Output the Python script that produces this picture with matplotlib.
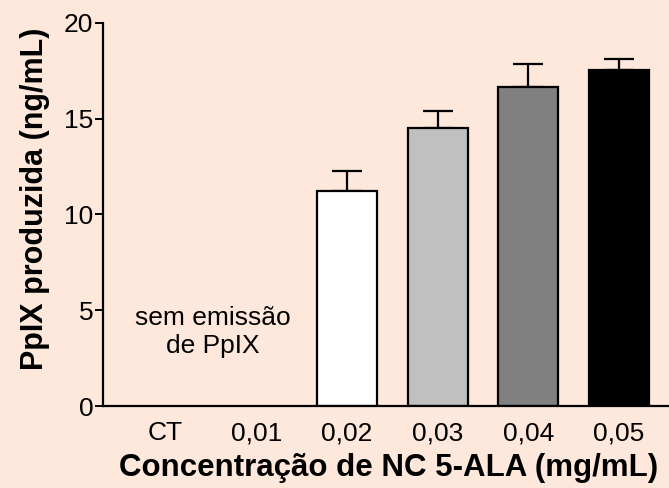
import matplotlib
matplotlib.use("Agg")
import matplotlib.pyplot as plt

plt.rcParams['font.family'] = ['Liberation Sans', 'DejaVu Sans']

categories = ["CT", "0,01", "0,02", "0,03", "0,04", "0,05"]
values = [0, 0, 11.23, 14.5, 16.68, 17.55]
errors = [0, 0, 1.05, 0.9, 1.19, 0.56]
colors = ["white", "white", "white", "#c0c0c0", "#808080", "black"]
yticks = [0, 5, 10, 15, 20]

bg = "#fde8db"
fig = plt.figure(figsize=(6.69, 4.88), dpi=100, facecolor=bg)
ax = fig.add_axes([0.154, 0.168, 0.846, 0.785], facecolor=bg)

x = list(range(len(categories)))
drawn = [i for i, v in enumerate(values) if v > 0]
ax.bar([x[i] for i in drawn], [values[i] for i in drawn], width=0.66,
       color=[colors[i] for i in drawn], edgecolor="black", linewidth=1.6,
       zorder=2)
ax.errorbar([x[i] for i in drawn], [values[i] for i in drawn],
            yerr=[[0] * len(drawn), [errors[i] for i in drawn]],
            fmt="none", ecolor="black", elinewidth=1.6, capsize=11,
            capthick=1.6, zorder=1)

ax.text(0.52, 3.87, "sem emissão\nde PpIX", ha="center", va="center",
        fontsize=19, linespacing=1.2)

ax.set_xlim(-0.69, 5.55)
ax.set_ylim(0, 20)
ax.set_xticks(x)
ax.set_xticklabels(categories)
ax.set_yticks(yticks)
ax.tick_params(axis="x", length=0, labelsize=19, pad=11)
ax.tick_params(axis="y", length=6, width=1.4, labelsize=19, pad=1)

for s in ["top", "right"]:
    ax.spines[s].set_visible(False)
for s in ["left", "bottom"]:
    ax.spines[s].set_linewidth(1.6)

ax.set_xlabel("Concentração de NC 5-ALA (mg/mL)", fontsize=22.5,
              fontweight="bold")
ax.xaxis.set_label_coords(0.505, -0.163)
ax.xaxis.label.set_va("center")
ax.set_ylabel("PpIX produzida (ng/mL)", fontsize=22, fontweight="bold")
ax.yaxis.set_label_coords(-0.12, 0.54)
ax.yaxis.label.set_va("center")

fig.savefig("out.png", dpi=100, facecolor=bg)
